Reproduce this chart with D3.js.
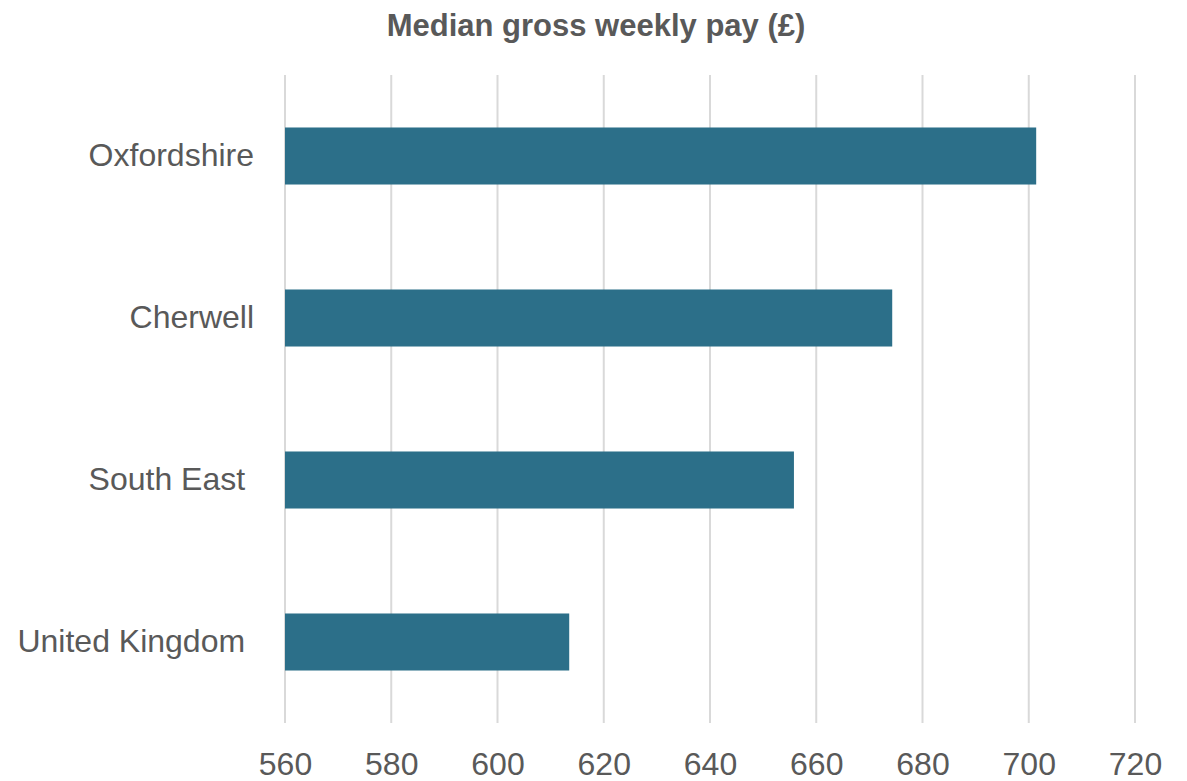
<!DOCTYPE html>
<html>
<head>
<meta charset="utf-8">
<script src="https://cdn.jsdelivr.net/npm/d3@7"></script>
<style>
  html, body { margin: 0; padding: 0; background: #ffffff; }
  svg text { font-family: "Liberation Sans", Arial, sans-serif; fill: #595959; white-space: pre; }
</style>
</head>
<body>
<svg id="chart" width="1187" height="781"></svg>
<script>
// Median gross weekly pay by area
const categories = ["Oxfordshire", "Cherwell", "South East ", "United Kingdom "];
const values = [701.4, 674.3, 655.8, 613.5];
const tickValues = [560, 580, 600, 620, 640, 660, 680, 700, 720];
const title = "Median gross weekly pay (£)";

const svg = d3.select("#chart");
const margin = { left: 285, right: 52, top: 75, bottom: 58 };
const W = 1187, H = 781;

const x = d3.scaleLinear().domain([560, 720]).range([margin.left, W - margin.right]);
const y = d3.scaleBand().domain(categories).range([margin.top, H - margin.bottom]).paddingInner(0.648).paddingOuter(0.324);

// vertical gridlines
svg.append("g").selectAll("line").data(tickValues).join("line")
  .attr("x1", d => x(d)).attr("x2", d => x(d))
  .attr("y1", margin.top).attr("y2", H - margin.bottom)
  .attr("stroke", "#d9d9d9").attr("stroke-width", 2);

// bars
svg.append("g").selectAll("rect").data(values).join("rect")
  .attr("x", x(560))
  .attr("y", (d, i) => y(categories[i]))
  .attr("width", d => x(d) - x(560))
  .attr("height", y.bandwidth())
  .attr("fill", "#2c6f89");

// x axis labels
const xAxis = d3.axisBottom(x).tickValues(tickValues).tickSize(0).tickPadding(0).tickFormat(d3.format("d"));
const gx = svg.append("g").attr("transform", `translate(0,${H - margin.bottom + 28})`).call(xAxis);
gx.select(".domain").remove();
gx.selectAll("text").attr("dy", "0.75em").style("font-size", "32px").attr("fill", "#595959");

// y axis labels
const yAxis = d3.axisLeft(y).tickSize(0).tickPadding(31);
const gy = svg.append("g").attr("transform", `translate(${margin.left},0)`).call(yAxis);
gy.select(".domain").remove();
gy.selectAll("text").style("font-size", "32px").attr("fill", "#595959");

// title
svg.append("text")
  .attr("x", 596).attr("y", 36)
  .attr("text-anchor", "middle")
  .style("font-size", "31px").style("font-weight", "bold")
  .text(title);
</script>
</body>
</html>
